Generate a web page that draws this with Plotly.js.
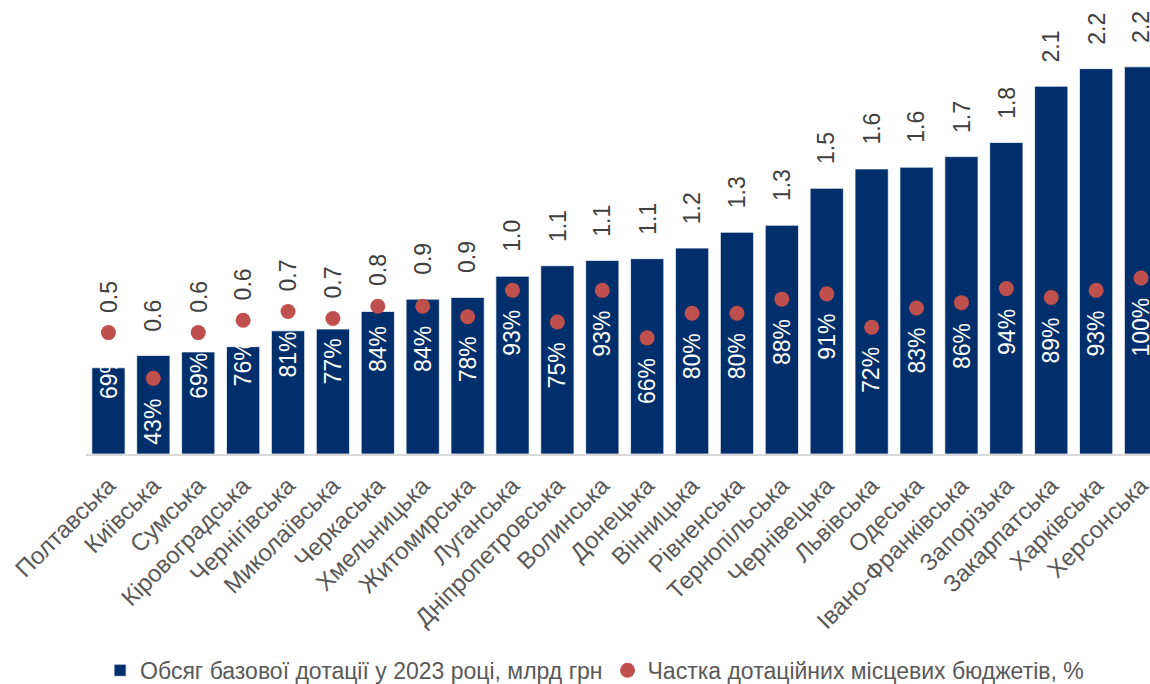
<!DOCTYPE html>
<html>
<head>
<meta charset="utf-8">
<script src="https://cdn.plot.ly/plotly-3.0.1.min.js"></script>
<style>html,body{margin:0;padding:0;background:#fff;}#chart{width:1150px;height:684px;}</style>
</head>
<body>
<div id="chart"></div>
<script>
var categories = ['Полтавська','Київська','Сумська','Кіровоградська','Чернігівська','Миколаївська','Черкаська','Хмельницька','Житомирська','Луганська','Дніпропетровська','Волинська','Донецька','Вінницька','Рівненська','Тернопільська','Чернівецька','Львівська','Одеська','Івано-Франківська','Запорізька','Закарпатська','Харківська','Херсонська'];
var subsidy = [0.49,0.56,0.58,0.61,0.70,0.71,0.81,0.88,0.89,1.01,1.07,1.10,1.11,1.17,1.26,1.30,1.51,1.62,1.63,1.69,1.77,2.09,2.19,2.20];
var sharePct = [69,43,69,76,81,77,84,84,78,93,75,93,66,80,80,88,91,72,83,86,94,89,93,100];
var seriesNames = ['Обсяг базової дотації у 2023 році, млрд грн','Частка дотаційних місцевих бюджетів, %'];

var Y_MAX = 2.58;           // primary axis top
var PX_PER_UNIT = 454 / Y_MAX;
var FONT = 'Liberation Sans, Arial, sans-serif';

var traces = [
  {
    type: 'bar', name: seriesNames[0], x: categories, y: subsidy,
    marker: {color: '#002f6c', line: {color: 'rgba(255,255,255,0.7)', width: 1}},
    hoverinfo: 'x+y'
  },
  {
    type: 'scatter', mode: 'markers', name: seriesNames[1], x: categories, y: sharePct, yaxis: 'y2',
    marker: {color: '#c0504d', size: 15}, cliponaxis: false
  }
];

var annotations = [];
categories.forEach(function (c, i) {
  var v = subsidy[i], s = sharePct[i] / 100;
  var labelY = Math.max(v + 22 / PX_PER_UNIT, s + 18 / PX_PER_UNIT);
  annotations.push({
    x: c, y: labelY, xref: 'x', yref: 'y', text: v.toFixed(1), showarrow: false,
    textangle: -90, yanchor: 'bottom', xanchor: 'center',
    font: {family: FONT, size: 23, color: '#404040'}
  });
  annotations.push({
    x: c, y: sharePct[i], xref: 'x', yref: 'y2', text: sharePct[i] + '%', showarrow: false,
    textangle: -90, yanchor: 'top', xanchor: 'center', yshift: -18,
    font: {family: FONT, size: 23, color: '#ffffff'}
  });
});

var layout = {
  width: 1150, height: 684,
  margin: {l: 86, r: 0, t: 0, b: 230},
  paper_bgcolor: '#ffffff', plot_bgcolor: '#ffffff',
  bargap: 0.26,
  showlegend: true,
  font: {family: FONT, color: '#595959'},
  xaxis: {
    type: 'category', range: [-0.5, 23.2], tickangle: -45,
    tickfont: {family: FONT, size: 24, color: '#595959'},
    ticklabelstandoff: 6,
    showline: true, linecolor: '#d9d9d9', linewidth: 2, ticks: '', showgrid: false, zeroline: false,
    fixedrange: true
  },
  yaxis: {range: [0, Y_MAX], visible: false, showgrid: false, zeroline: false},
  yaxis2: {range: [0, Y_MAX * 100], overlaying: 'y', side: 'right', visible: false, showgrid: false, zeroline: false},
  legend: {
    orientation: 'h', x: 0.478, xanchor: 'center', y: 0.02, yanchor: 'middle', yref: 'container',
    font: {family: FONT, size: 23, color: '#595959'}, itemgap: 4, itemwidth: 30
  },
  annotations: annotations
};

Plotly.newPlot('chart', traces, layout, {displayModeBar: false, staticPlot: true});
</script>
</body>
</html>
